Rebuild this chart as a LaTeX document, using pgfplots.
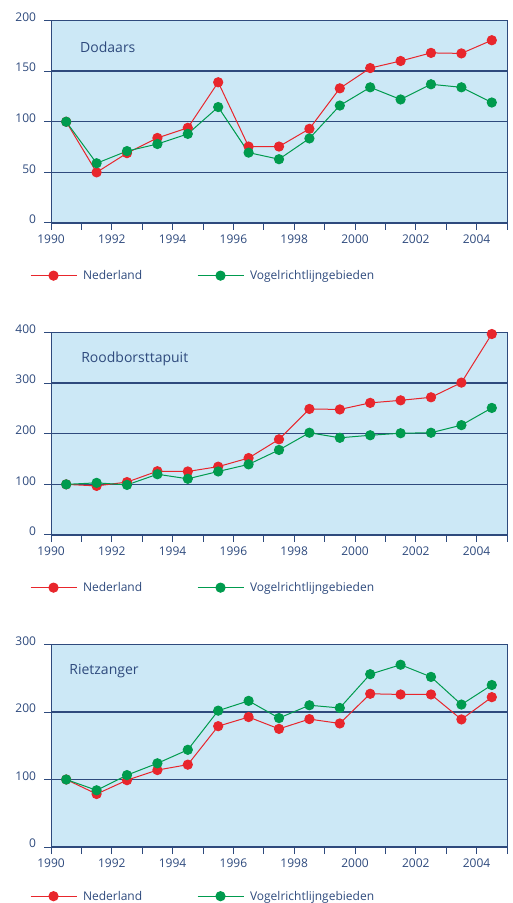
\documentclass[border=0pt]{standalone}
\usepackage{pgfplots}
\pgfplotsset{compat=1.18}
\usepackage{fontspec}
\setmainfont{Open Sans}
\definecolor{navy}{RGB}{46,74,125}
\definecolor{bgblue}{RGB}{204,232,246}
\definecolor{nlred}{RGB}{232,38,44}
\definecolor{vrgreen}{RGB}{0,155,78}
\pgfplotsset{
  panel/.style={
    scale only axis, width=456pt, height=202.5pt,
    anchor=south west,
    xmin=1990, xmax=2005,
    ymin=0,
    xtick={1990,1992,...,2004},
    minor xtick={1991,1993,...,2005},
    xtick pos=bottom, ytick pos=left,
    tick align=outside,
    major tick length=7pt, minor tick length=7pt,
    every tick/.style={navy, line width=1pt},
    every minor tick/.style={navy, line width=1pt},
    axis line style={navy, line width=1pt},
    ymajorgrids,
    major grid style={navy, line width=1.4pt},
    axis background/.style={fill=bgblue},
    /pgf/number format/assume math mode=true,
    xticklabel={\pgfmathprintnumber[1000 sep={}]{\tick}},
    ticklabel style={font=\fontsize{12}{14}\selectfont, text=navy},
    yticklabel style={yshift=3.5pt, xshift=-4.5pt},
    xticklabel style={yshift=-1pt},
    legend columns=2,
    legend style={at={(axis description cs:-0.046,-0.26)}, anchor=west,
      draw=none, fill=none, inner sep=0pt, outer sep=0pt,
      font=\fontsize{12}{14}\selectfont, text=navy,
      /tikz/every odd column/.append style={column sep=4pt}},
    legend image code/.code={\draw[mark repeat=2,mark phase=2,##1] plot coordinates {(0pt,0pt) (23pt,0pt) (46pt,0pt)};},
  },
  nl/.style={nlred, line width=1pt, mark=*, mark size=4.6pt, mark options={fill=nlred, draw=nlred}},
  vr/.style={vrgreen, line width=1pt, mark=*, mark size=4.6pt, mark options={fill=vrgreen, draw=vrgreen}},
}
\newcommand{\paneltitle}[2]{\node[anchor=west, inner sep=0pt, text=navy, font=\fontsize{14}{16}\selectfont] at (axis description cs:#1,0.868) {#2};}
\begin{document}
\begin{tikzpicture}
\useasboundingbox (0,0) rectangle (513pt,903pt);
% Panel 1
\begin{axis}[panel, at={(51pt,680pt)}, ymax=200, ytick={0,50,...,200}]
\addplot[nl] coordinates {(1990.5,100)(1991.5,50)(1992.5,69)(1993.5,84)(1994.5,94)(1995.5,139)(1996.5,75.5)(1997.5,75.5)(1998.5,93)(1999.5,133)(2000.5,153)(2001.5,160)(2002.5,168)(2003.5,167.5)(2004.5,180.5)};
\addlegendentry{\makebox[112pt][l]{Nederland}}
\addplot[vr] coordinates {(1990.5,100)(1991.5,59)(1992.5,71)(1993.5,78)(1994.5,88)(1995.5,114.5)(1996.5,69.5)(1997.5,63)(1998.5,83.5)(1999.5,116)(2000.5,134)(2001.5,122)(2002.5,137)(2003.5,134)(2004.5,119)};
\addlegendentry{Vogelrichtlijngebieden}
\paneltitle{0.0636}{Dodaars}
\end{axis}
% Panel 2
\begin{axis}[panel, at={(51pt,368pt)}, ymax=400, ytick={0,100,...,400}]
\addplot[nl] coordinates {(1990.5,100)(1991.5,97)(1992.5,104.5)(1993.5,126)(1994.5,125.5)(1995.5,135)(1996.5,152)(1997.5,189)(1998.5,249)(1999.5,248)(2000.5,261)(2001.5,266)(2002.5,272)(2003.5,301)(2004.5,397)};
\addlegendentry{\makebox[112pt][l]{Nederland}}
\addplot[vr] coordinates {(1990.5,100)(1991.5,103)(1992.5,99)(1993.5,120)(1994.5,111)(1995.5,125.5)(1996.5,139.5)(1997.5,168)(1998.5,202)(1999.5,192)(2000.5,197)(2001.5,201)(2002.5,202)(2003.5,217)(2004.5,251)};
\addlegendentry{Vogelrichtlijngebieden}
\paneltitle{0.066}{Roodborsttapuit}
\end{axis}
% Panel 3
\begin{axis}[panel, at={(51pt,56pt)}, ymax=300, ytick={0,100,...,300},
  legend style={at={(axis description cs:-0.046,-0.243)}}]
\addplot[nl] coordinates {(1990.5,100)(1991.5,78.5)(1992.5,99)(1993.5,114)(1994.5,122)(1995.5,179)(1996.5,192.5)(1997.5,175)(1998.5,189.5)(1999.5,183)(2000.5,227)(2001.5,226)(2002.5,226)(2003.5,189)(2004.5,222)};
\addlegendentry{\makebox[112pt][l]{Nederland}}
\addplot[vr] coordinates {(1990.5,100)(1991.5,84)(1992.5,106.5)(1993.5,124)(1994.5,144)(1995.5,202)(1996.5,216.5)(1997.5,191)(1998.5,210)(1999.5,206)(2000.5,256)(2001.5,270)(2002.5,252)(2003.5,211)(2004.5,240)};
\addlegendentry{Vogelrichtlijngebieden}
\paneltitle{0.04}{Rietzanger}
\end{axis}
\end{tikzpicture}
\end{document}
